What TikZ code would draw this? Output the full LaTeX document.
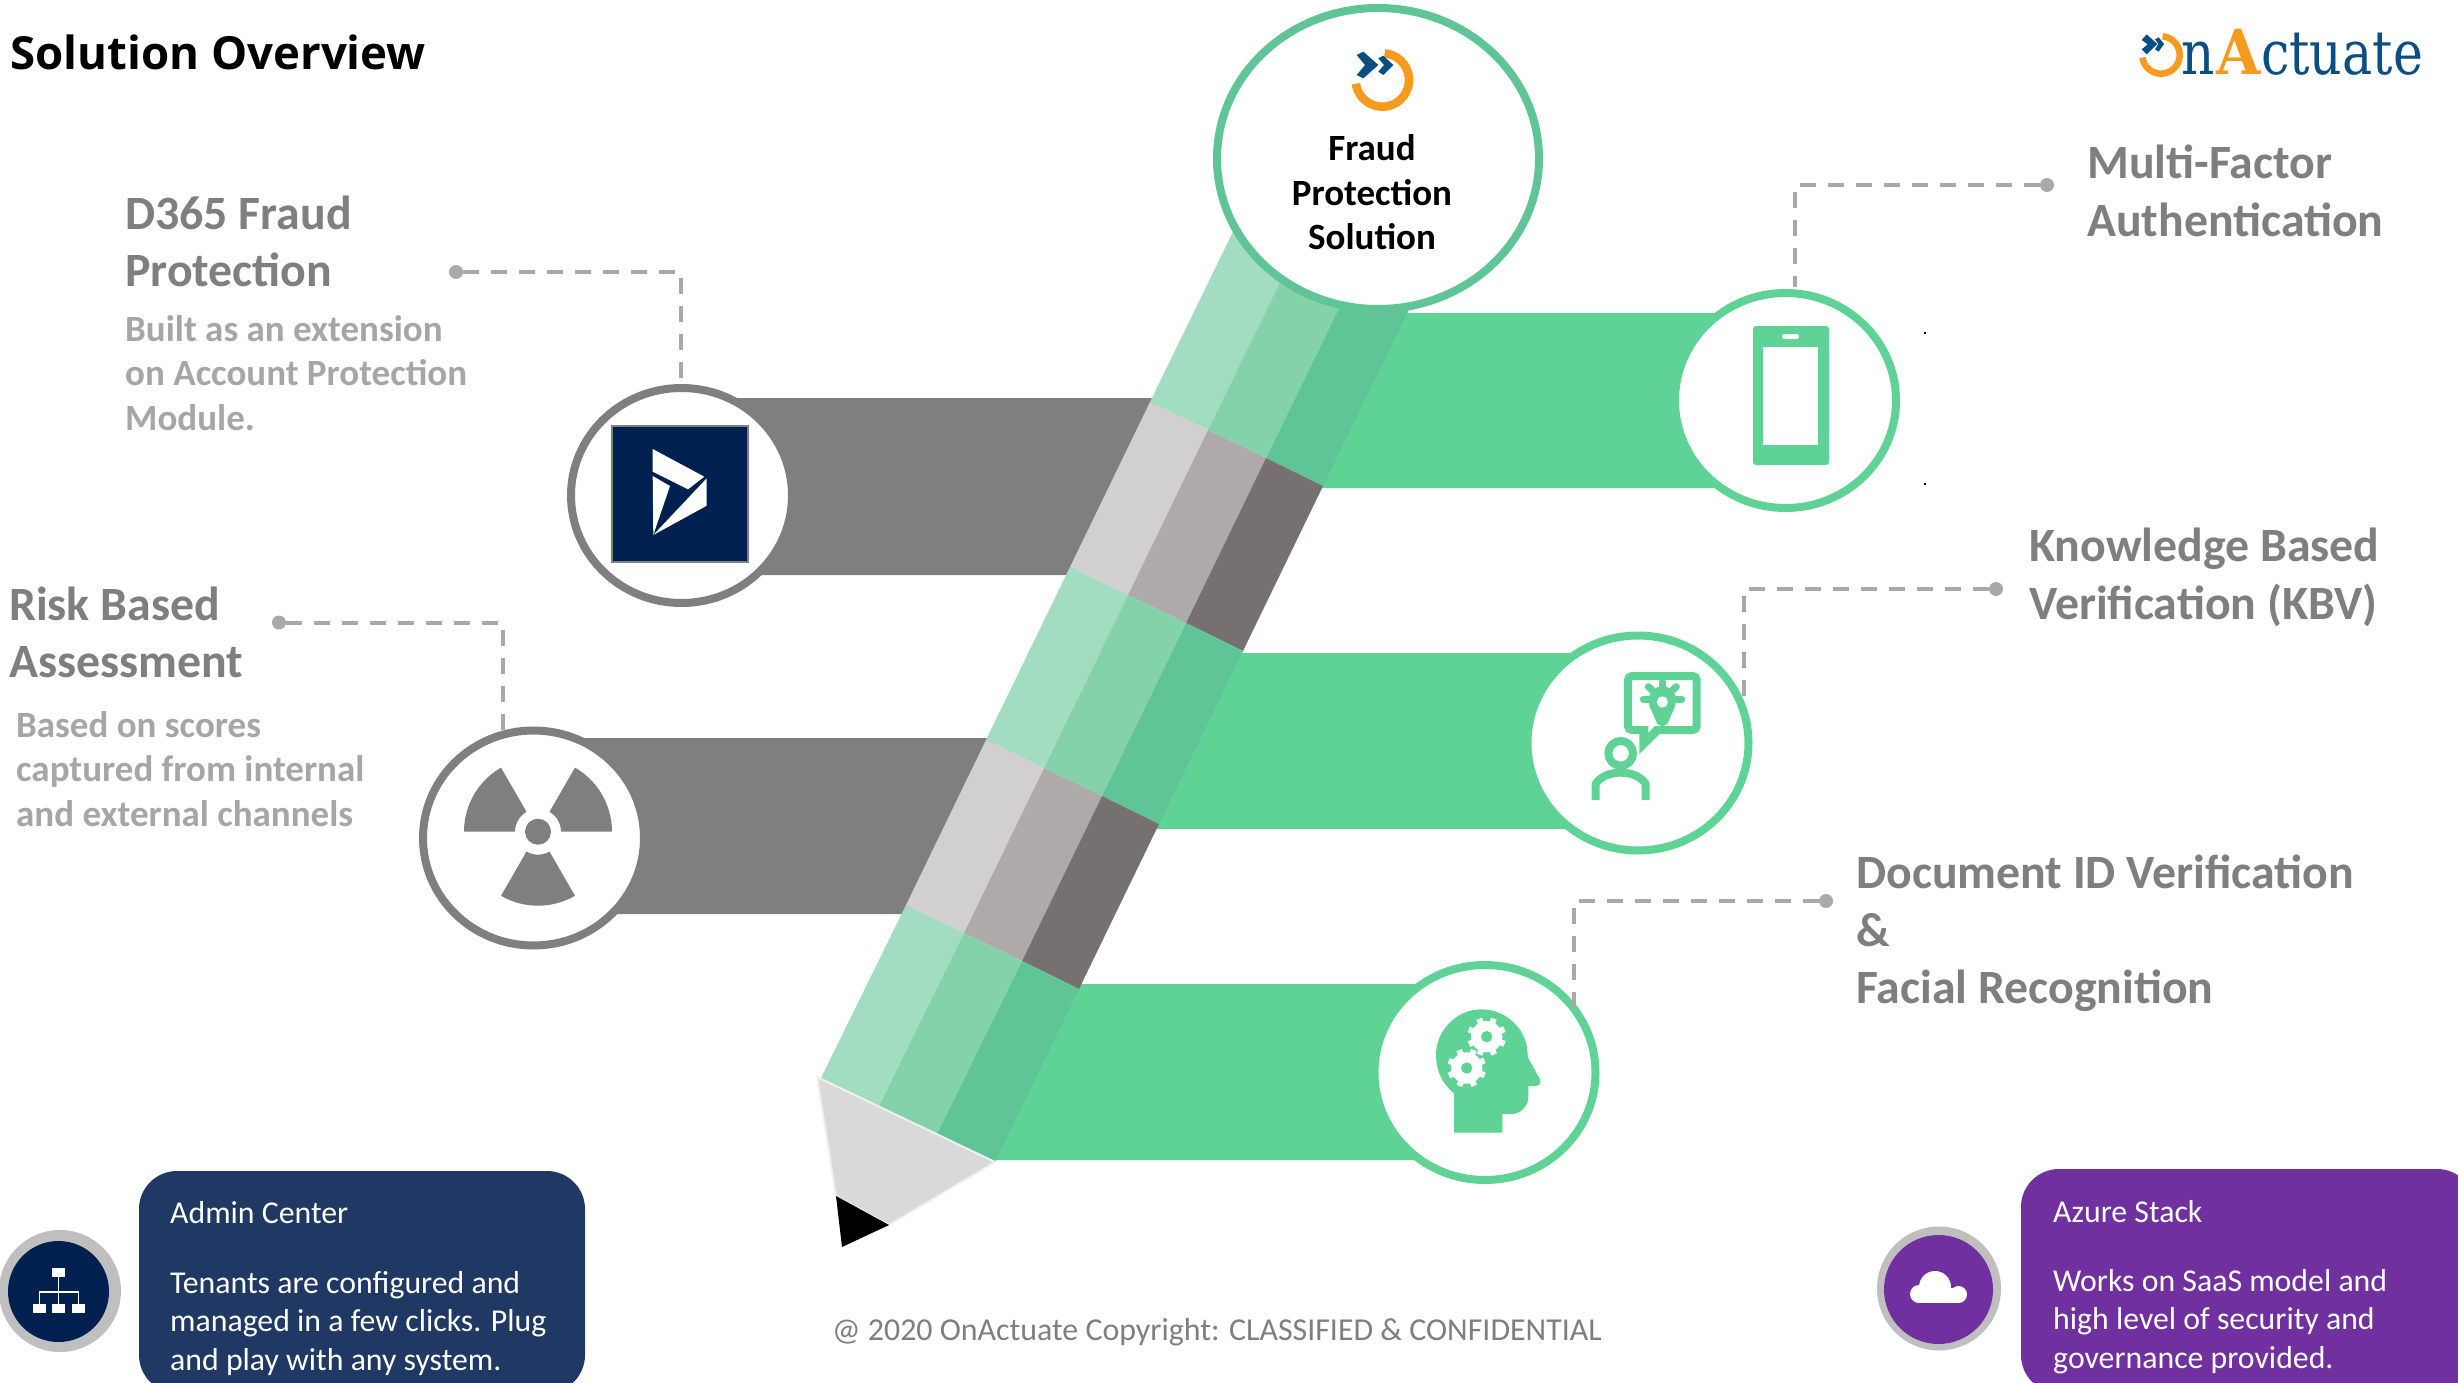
\documentclass[tikz,border=0pt]{standalone}
\usepackage{fontspec}
\usepackage{graphicx}
\usetikzlibrary{shapes.geometric}
\setmainfont{Carlito}
\newfontfamily\headfont{Open Sans}
\newfontfamily\logofont{DejaVu Serif}
\definecolor{barG}{HTML}{5FD395}
\definecolor{barK}{HTML}{7F7F7F}
\definecolor{g1}{HTML}{A2DDC1}
\definecolor{g2}{HTML}{83D2AA}
\definecolor{g3}{HTML}{5FC596}
\definecolor{k1}{HTML}{D1CFD0}
\definecolor{k2}{HTML}{AEAAA9}
\definecolor{k3}{HTML}{767170}
\definecolor{dash}{HTML}{A9A9A9}
\definecolor{navy}{HTML}{002050}
\definecolor{boxnavy}{HTML}{203864}
\definecolor{purp}{HTML}{7030A0}
\definecolor{logoB}{HTML}{0B4F82}
\definecolor{logoO}{HTML}{F79A1E}
\definecolor{headK}{HTML}{7F7F7F}
\definecolor{subK}{HTML}{A6A6A6}
\tikzset{
 greenring/.style={ellipse,draw=barG,line width=8pt,fill=white,minimum width=221pt,minimum height=215pt,inner sep=0pt},
 grayring/.style={ellipse,draw=barK,line width=8pt,fill=white,minimum width=221pt,minimum height=215pt,inner sep=0pt},
 leader/.style={draw=dash,line width=4pt,dash pattern=on 16pt off 12pt},
 leaderdot/.style={circle,fill=dash,minimum size=14pt,inner sep=0pt},
 heading/.style={anchor=base west,inner sep=0pt,align=left,text=headK,font=\bfseries\fontsize{47.8}{57.5}\selectfont},
 subtext/.style={anchor=base west,inner sep=0pt,align=left,text=subK,font=\bfseries\fontsize{37}{44.5}\selectfont},
 cardtext/.style={anchor=base west,inner sep=0pt,align=left,text=white,font=\fontsize{31.8}{38.5}\selectfont},
 cardbox/.style={rounded corners=38pt},
}
\newcommand{\blade}[6]{\fill[barK] plot[domain=#3:#4,samples=16] ({#1+#6*cos(\x)},{#2-#6*sin(\x)}) -- plot[domain=#4:#3,samples=8] ({#1+#5*cos(\x)},{#2-#5*sin(\x)}) -- cycle;}
\newcommand{\gearicon}[2]{\fill[white] (#1,#2) circle[radius=47];
 \foreach \a in {0,45,...,315}{\draw[white,line width=6pt] (#1,#2) -- ({#1+58*cos(\a+22)},{#2+58*sin(\a+22)});}
 \fill[barG] (#1,#2) circle[radius=17];}
\begin{document}
\begin{tikzpicture}[x=1pt,y=-1pt]
\path[use as bounding box,clip] (0,0) rectangle (2458,1383);
\fill[white] (0,0) rectangle (2458,1383);
% bars
\fill[barK] (1160,398) -- (1075,575) -- (680,575) -- (680,398) -- cycle;
\fill[barK] (996,738) -- (910,914) -- (530,914) -- (530,738) -- cycle;
\fill[barG] (1404,313) -- (1320,488) -- (1789,488) -- (1789,313) -- cycle;
\fill[barG] (1240,653) -- (1155,829) -- (1641,829) -- (1641,653) -- cycle;
\fill[barG] (1078,984) -- (992,1160) -- (1487,1160) -- (1487,984) -- cycle;
% pencil body
\fill[g1] (1267,162) -- (1325,190) -- (1208,430) -- (1150,402) -- cycle;
\fill[g2] (1325,190) -- (1383,218) -- (1266,458) -- (1208,430) -- cycle;
\fill[g3] (1383,218) -- (1440,246) -- (1323,486) -- (1266,458) -- cycle;
\fill[k1] (1150,402) -- (1208,430) -- (1128,595) -- (1070,567) -- cycle;
\fill[k2] (1208,430) -- (1266,458) -- (1186,623) -- (1128,595) -- cycle;
\fill[k3] (1266,458) -- (1323,486) -- (1243,651) -- (1186,623) -- cycle;
\fill[g1] (1070,567) -- (1128,595) -- (1044,768) -- (986,740) -- cycle;
\fill[g2] (1128,595) -- (1186,623) -- (1102,796) -- (1044,768) -- cycle;
\fill[g3] (1186,623) -- (1243,651) -- (1159,824) -- (1102,796) -- cycle;
\fill[k1] (986,740) -- (1044,768) -- (964,933) -- (906,905) -- cycle;
\fill[k2] (1044,768) -- (1102,796) -- (1022,961) -- (964,933) -- cycle;
\fill[k3] (1102,796) -- (1159,824) -- (1079,989) -- (1022,961) -- cycle;
\fill[g1] (906,905) -- (964,933) -- (879,1106) -- (821,1078) -- cycle;
\fill[g2] (964,933) -- (1022,961) -- (937,1134) -- (879,1106) -- cycle;
\fill[g3] (1022,961) -- (1079,989) -- (995,1162) -- (937,1134) -- cycle;
% tip
\filldraw[fill=black!15,draw=black!6,line width=2pt,line join=round] (817,1077) -- (995,1162) -- (889,1225) -- (836,1196) -- cycle;
\fill[black] (836,1196) -- (889,1225) -- (842,1247) -- cycle;
% circles
\node[ellipse,draw=g3,line width=8pt,fill=white,minimum width=322pt,minimum height=301pt,inner sep=0pt] (hub) at (1378,158.5) {};
\node[greenring] (c1) at (1785.5,400.5) {};
\node[greenring] (c2) at (1638,743) {};
\node[greenring] (c3) at (1485,1072.5) {};
\node[grayring] (d1) at (681.5,495.5) {};
\node[grayring] (d2) at (533.5,838) {};
% hub text
\node[anchor=base,inner sep=0pt,align=center,font=\bfseries\fontsize{37}{44.5}\selectfont,text=black] (hubtext) at (1372,250) {Fraud\\Protection\\Solution};
% hub logo
\begin{scope}[shift={(1150,0)},scale=1/3]
\draw[logoO,line width=8.5pt] plot[domain=85:-172,samples=50] ({697+80*cos(\x)},{240-80*sin(\x)});
\fill[logoB] (620,165) -- (640,155) -- (685,195) -- (640,235) -- (620,225) -- (645,195) -- cycle;
\fill[logoB] (685,175) -- (700,167) -- (730,195) -- (700,225) -- (685,215) -- (702,195) -- cycle;
\end{scope}
% top logo
\begin{scope}[shift={(2100,0)},scale=1/3]
\draw[logoO,line width=6.5pt] plot[domain=85:-172,samples=50] ({183+56*cos(\x)},{165-56*sin(\x)});
\fill[logoB] (125,120) -- (140,103) -- (172,132) -- (140,163) -- (125,148) -- (143,133) -- cycle;
\fill[logoB] (165,118) -- (176,112) -- (192,132) -- (176,155) -- (165,148) -- (175,132) -- cycle;
\end{scope}
\node[anchor=base west,inner sep=0pt,text=logoB,font=\logofont\fontsize{61}{61}\selectfont] (logon) at (2181,75) {\scalebox{.85}[1]{n}};
\node[anchor=base west,inner sep=0pt,text=logoO,font=\logofont\bfseries\fontsize{62}{62}\selectfont] (logoa) at (2216,75) {\scalebox{.92}[1]{A}};
\node[anchor=base west,inner sep=0pt,text=logoB,font=\logofont\fontsize{61}{61}\selectfont] (logoc) at (2261,75) {\scalebox{.83}[1]{ctuate}};
% mobile icon
\fill[barG,rounded corners=3pt] (1753,326) rectangle (1829,465);
\fill[white] (1763,347) rectangle (1818,445);
\fill[white,rounded corners=2.5pt] (1782,334) rectangle (1799,339);
\fill[black] (1924,332) rectangle (1926,334);
\fill[black] (1924,483) rectangle (1926,485);
% knowledge icon
\begin{scope}[shift={(1500,620)},scale=1/3]
\draw[barG,line width=8pt,rounded corners=4pt] (384,168) rectangle (590,330);
\fill[barG] (418,335) -- (418,402) -- (478,343) -- cycle;
\fill[white] (445,316) -- (445,338) -- (464,318) -- cycle;
\draw[barG,line width=8pt] (362,400) circle[radius=37];
\draw[barG,line width=8pt] (287,540) -- (287,492) .. controls (300,470) and (330,458) .. (362,458) .. controls (394,458) and (424,470) .. (437,492) -- (437,540);
\fill[barG] (487,240) circle[radius=41];
\fill[barG] (447,255) -- (472,312) -- (487,320) -- (502,312) -- (527,255) -- cycle;
\draw[barG,line width=7pt,line cap=round] (487,186) -- (487,205);
\draw[barG,line width=7pt,line cap=round] (430,237) -- (450,237);
\draw[barG,line width=7pt,line cap=round] (525,237) -- (545,237);
\draw[barG,line width=7pt,line cap=round] (445,200) -- (458,212);
\draw[barG,line width=7pt,line cap=round] (529,200) -- (516,212);
\fill[white] (487,246) circle[radius=17];
\end{scope}
% head icon
\begin{scope}[shift={(1360,950)},scale=1/3]
\fill[barG] (282,548) -- (282,430) .. controls (245,400) and (228,360) .. (228,315) .. controls (228,240) and (290,178) .. (365,178) .. controls (440,178) and (503,240) .. (503,315) -- (505,325) -- (540,388) .. controls (545,400) and (538,408) .. (525,408) -- (505,408) -- (505,440) .. controls (505,470) and (480,492) .. (455,492) -- (427,492) -- (427,548) -- cycle;
\gearicon{380}{260}
\gearicon{320}{354}
\end{scope}
% D365 logo
\node[draw=barK,fill=navy,line width=1.5pt,minimum size=136pt,inner sep=0pt] (dyn) at (680,494) {};
\fill[white] (652.7,449) -- (704.3,476.7) -- (688,489.3) -- (652.7,471.7) -- cycle;
\fill[white] (652.7,476) -- (670,486) -- (653.3,535) -- cycle;
\fill[white] (706.7,478.3) -- (706.7,505.7) -- (653.3,535) -- cycle;
% radiation
\blade{538}{831.7}{0}{60}{23}{74}
\blade{538}{831.7}{120}{180}{23}{74}
\blade{538}{831.7}{240}{300}{23}{74}
\fill[barK] (538,831.7) circle[radius=13];
% leaders
\node[leaderdot] (p1) at (456,272) {};
\node[leaderdot] (p2) at (279,622.5) {};
\node[leaderdot] (p3) at (2047,185) {};
\node[leaderdot] (p4) at (1996,589) {};
\node[leaderdot] (p5) at (1826,901) {};
\coordinate (e1) at (681,384);
\coordinate (e2) at (503,733);
\coordinate (e3) at (1795,287);
\coordinate (e4) at (1744,700);
\coordinate (e5) at (1574,1012);
\draw[leader] (p1) -| (e1);
\draw[leader] (p2) -| (e2);
\draw[leader] (p3) -| (e3);
\draw[leader] (p4) -| (e4);
\draw[leader] (p5) -| (e5);
% headings
\node[anchor=base west,inner sep=0pt,text=black,font=\headfont\bfseries\fontsize{45.6}{46}\selectfont] (title) at (10,70) {Solution Overview};
\node[heading] (t1) at (125,286.5) {D365 Fraud\\Protection};
\node[subtext] (s1) at (125,430) {Built as an extension\\on Account Protection\\Module.};
\node[heading] (t2) at (9,677.5) {Risk Based\\Assessment};
\node[subtext] (s2) at (16,826) {Based on scores\\captured from internal\\and external channels};
\node[heading] (t3) at (2087,236.5) {Multi-Factor\\Authentication};
\node[heading] (t4) at (2029,619) {Knowledge Based\\Verification (KBV)};
\node[heading] (t5) at (1856,1003.5) {Document ID Verification\\\&\\Facial Recognition};
% copyright
\node[anchor=base west,inner sep=0pt,text=headK,font=\fontsize{31.9}{32}\selectfont] (copy) at (832,1340) {@ 2020 OnActuate Copyright: CLASSIFIED \& CONFIDENTIAL};
% admin card
\fill[black!25] (60,1291) circle[radius=61];
\node[circle,fill=navy,minimum size=101pt,inner sep=0pt] (adm) at (58.5,1291.5) {};
\fill[white] (52,1268) rectangle (65,1277);
\fill[white] (32.5,1304) rectangle (46,1313);
\fill[white] (52,1304) rectangle (65,1313);
\fill[white] (71.5,1304) rectangle (85,1313);
\draw[white,line width=1.5pt] (58.5,1277) -- (58.5,1304);
\draw[white,line width=1.5pt] (39.4,1304) -- (39.4,1292) -- (78.5,1292) -- (78.5,1304);
\fill[boxnavy,cardbox] (139,1171) rectangle (585,1393);
\node[cardtext] (a1) at (170,1223) {Admin Center};
\node[cardtext] (a2) at (170,1370) {Tenants are configured and\\managed in a few clicks. Plug\\and play with any system.};
% azure card
\fill[black!25] (1939,1288.5) circle[radius=62];
\node[circle,fill=purp,minimum size=109pt,inner sep=0pt] (azu) at (1938.5,1289.5) {};
\fill[white] (1935,1287) circle[radius=16];
\fill[white] (1919,1294) circle[radius=9];
\fill[white] (1958.5,1294.5) circle[radius=8.5];
\fill[white] (1919,1288) rectangle (1958,1303);
\fill[purp,cardbox] (2021,1169) rectangle (2475,1393);
\node[cardtext] (b1) at (2053,1222) {Azure Stack};
\node[cardtext] (b2) at (2053,1368) {Works on SaaS model and\\high level of security and\\governance provided.};
\end{tikzpicture}
\end{document}
